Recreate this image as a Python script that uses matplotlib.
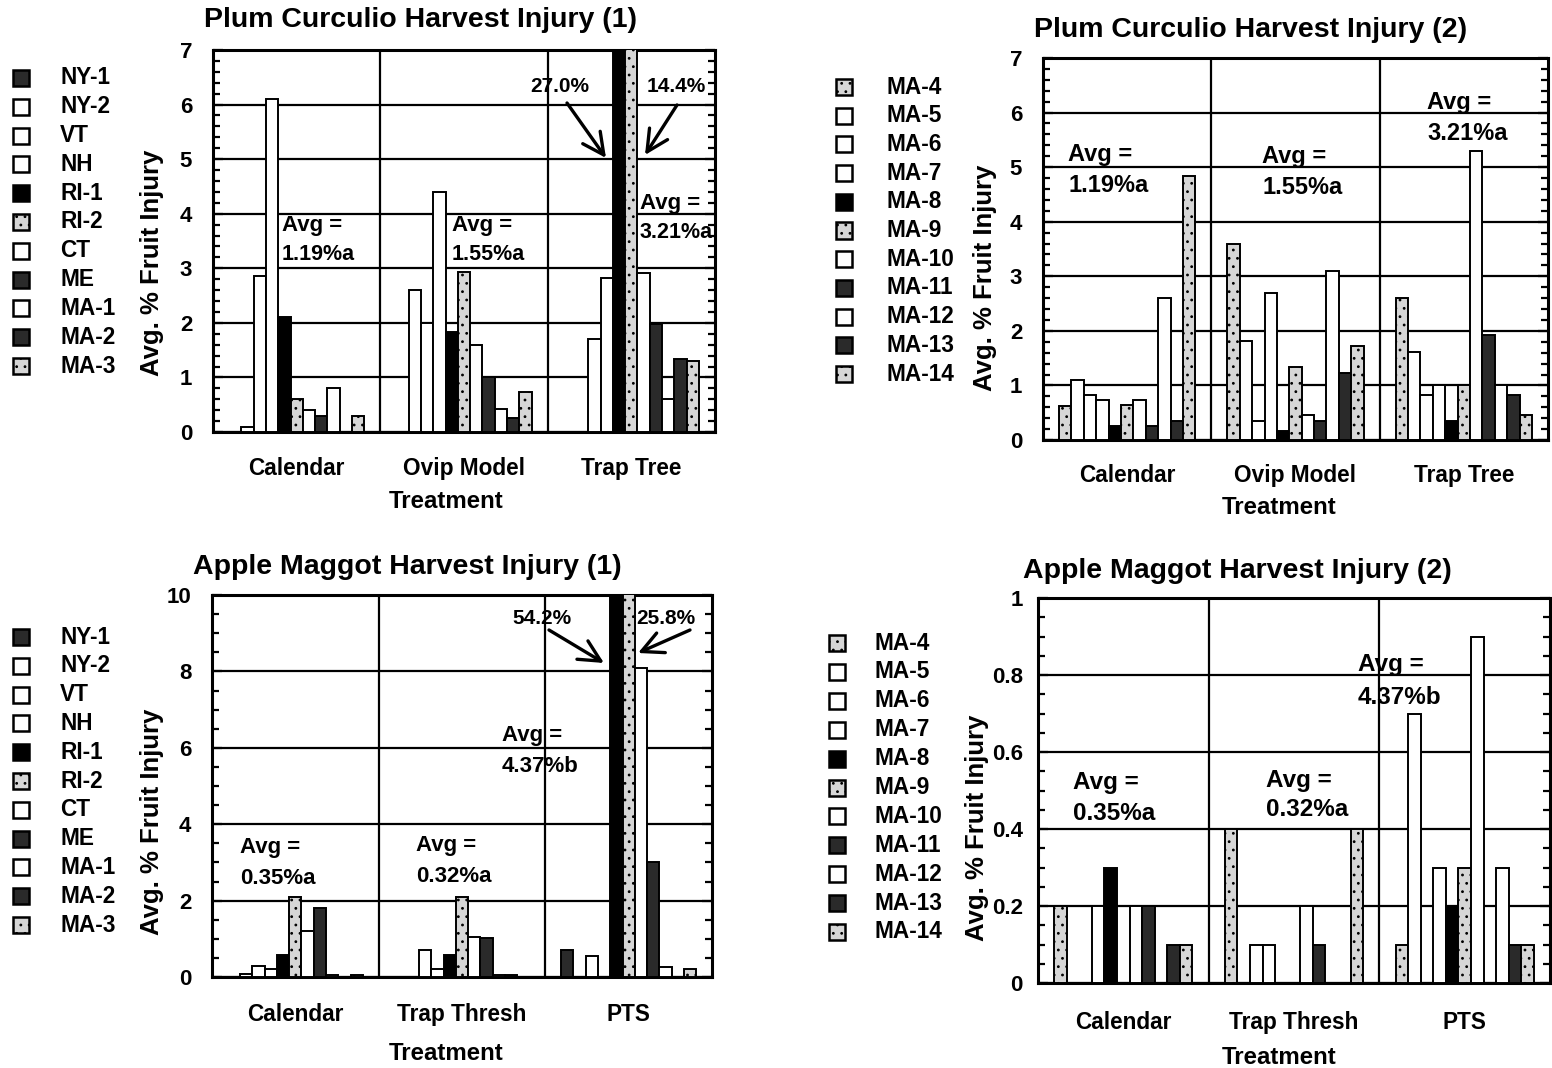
import numpy as np
import matplotlib
matplotlib.use('Agg')
import matplotlib.pyplot as plt
from matplotlib.patches import Rectangle, FancyArrowPatch
from matplotlib.ticker import MultipleLocator, FuncFormatter

W, H = 1552, 1068
plt.rcParams['font.family'] = ['Liberation Sans', 'DejaVu Sans']
plt.rcParams['hatch.linewidth'] = 0.8

# ---------------- data ----------------
pc_treatments = ['Calendar', 'Ovip Model', 'Trap Tree']
am_treatments = ['Calendar', 'Trap Thresh', 'PTS']

sites_1 = ['NY-1', 'NY-2', 'VT', 'NH', 'RI-1', 'RI-2', 'CT', 'ME', 'MA-1', 'MA-2', 'MA-3']
sites_2 = ['MA-4', 'MA-5', 'MA-6', 'MA-7', 'MA-8', 'MA-9', 'MA-10', 'MA-11', 'MA-12', 'MA-13', 'MA-14']

styles_1 = ['dpat', 'white', 'white', 'white', 'black', 'lpat', 'white', 'dpat', 'white', 'dpat', 'lpat']
styles_2 = ['lpat', 'white', 'white', 'white', 'black', 'lpat', 'white', 'dpat', 'white', 'dpat', 'lpat']

# Plum curculio (1): % fruit injury by site, one list per treatment
pc1_calendar = [0, 0.1, 2.85, 6.1, 2.1, 0.6, 0.4, 0.3, 0.8, 0, 0.3]
pc1_ovip     = [0, 2.6, 2.0, 4.4, 1.83, 2.94, 1.6, 1.0, 0.42, 0.25, 0.73]
pc1_traptree = [0, 0, 1.7, 2.82, 27.0, 14.4, 2.92, 1.97, 0.6, 1.33, 1.3]

# Plum curculio (2)
pc2_calendar = [0.62, 1.1, 0.82, 0.73, 0.25, 0.64, 0.73, 0.25, 2.6, 0.35, 4.83]
pc2_ovip     = [3.6, 1.82, 0.35, 2.7, 0.17, 1.33, 0.45, 0.35, 3.1, 1.22, 1.72]
pc2_traptree = [2.6, 1.62, 0.82, 1.0, 0.35, 1.0, 5.3, 1.92, 1.0, 0.82, 0.45]

# Apple maggot (1)
am1_calendar = [0, 0.08, 0.3, 0.2, 0.57, 2.1, 1.2, 1.8, 0.05, 0, 0.05]
am1_trap     = [0, 0, 0.7, 0.2, 0.57, 2.1, 1.05, 1.03, 0.05, 0.05, 0]
am1_pts      = [0.7, 0, 0.55, 0, 54.2, 25.8, 8.1, 3.0, 0.25, 0, 0.2]

# Apple maggot (2)
am2_calendar = [0.2, 0, 0, 0.2, 0.3, 0, 0.2, 0.2, 0, 0.1, 0.1]
am2_trap     = [0.4, 0, 0.1, 0.1, 0, 0, 0.2, 0.1, 0, 0, 0.4]
am2_pts      = [0.1, 0.7, 0, 0.3, 0.2, 0.3, 0.9, 0, 0.3, 0.1, 0.1]

STYLE = {
    'white': dict(facecolor='white', hatch=None),
    'black': dict(facecolor='black', hatch=None),
    'lpat': dict(facecolor='#d6d6d6', hatch='..'),
    'dpat': dict(facecolor='#2a2a2a', hatch=None),
}

fig = plt.figure(figsize=(W / 100, H / 100), dpi=100)
fig.patch.set_facecolor('white')


def fx(x):
    return x / W


def fy(y):
    return 1 - y / H


def add_ax(x0, y0, x1, y1):
    return fig.add_axes([fx(x0), fy(y1), (x1 - x0) / W, (y1 - y0) / H])


def draw_panel(ax, treatments, data, styles, ymax, major, minor, xpad, ypad, fmt=None):
    n = len(styles)
    w = 0.81 / n
    for i in range(n):
        vals = [d[i] for d in data]
        xs = np.arange(len(treatments)) + (i - (n - 1) / 2) * w
        st = STYLE[styles[i]]
        ax.bar(xs, vals, width=w, facecolor=st['facecolor'], hatch=st['hatch'],
               edgecolor='black', linewidth=1.4, zorder=3)
    ax.set_xlim(-0.5, 2.5)
    ax.set_ylim(0, ymax)
    ax.yaxis.set_major_locator(MultipleLocator(major))
    ax.yaxis.set_minor_locator(MultipleLocator(minor))
    if fmt is not None:
        ax.yaxis.set_major_formatter(FuncFormatter(fmt))
    ax.grid(axis='y', which='major', color='black', lw=1.6, zorder=1)
    for xv in [0.5, 1.5]:
        ax.axvline(xv, color='black', lw=1.6, zorder=1)
    ax.set_axisbelow(True)
    ax.tick_params(axis='y', which='both', direction='in', left=True, right=True,
                   labelsize=16, pad=ypad, width=1.6)
    ax.tick_params(axis='y', which='major', length=7)
    ax.tick_params(axis='y', which='minor', length=5)
    ax.set_xticks(range(len(treatments)))
    ax.set_xticklabels(treatments)
    ax.tick_params(axis='x', length=0, labelsize=16.3, pad=xpad)
    for lab in ax.get_xticklabels() + ax.get_yticklabels():
        lab.set_fontweight('bold')
    for s in ax.spines.values():
        s.set_linewidth(2.2)


def ftext(x, y, s, size, weight='bold', ha='left', va='center', rot=0):
    fig.text(fx(x), fy(y), s, fontsize=size, fontweight=weight, ha=ha, va=va, rotation=rot)


def legend(sites, styles, xbox, xlab, y0, y1, size=16.3):
    n = len(sites)
    for k, (site, sty) in enumerate(zip(sites, styles)):
        y = y0 + (y1 - y0) * k / (n - 1)
        st = STYLE[sty]
        r = Rectangle((fx(xbox), fy(y + 8)), 16 / W, 16 / H, transform=fig.transFigure,
                      facecolor=st['facecolor'], hatch=st['hatch'], edgecolor='black', lw=1.8)
        fig.add_artist(r)
        ftext(xlab, y, site, size)


def arrow(xt, yt, xh, yh):
    fig.add_artist(FancyArrowPatch(
        (fx(xt), fy(yt)), (fx(xh), fy(yh)), transform=fig.transFigure,
        arrowstyle='->,head_length=0.7,head_width=0.35', mutation_scale=22,
        lw=2.4, color='black', shrinkA=0, shrinkB=0))


gfmt = lambda v, p: '%g' % v

# ---------------- Panel 1 ----------------
ax1 = add_ax(213, 50, 715, 432)
draw_panel(ax1, pc_treatments, [pc1_calendar, pc1_ovip, pc1_traptree], styles_1,
           7, 1, 0.2, xpad=18, ypad=15)
ftext(421, 20, 'Plum Curculio Harvest Injury (1)', 20.5, ha='center')
ftext(152, 263, 'Avg. % Fruit Injury', 18.5, ha='center', rot=90)
ftext(446, 501, 'Treatment', 17.3, ha='center')
legend(sites_1, styles_1, 13, 60, 78, 366)
ftext(282, 225, 'Avg =', 16)
ftext(282, 254, '1.19%a', 15.5)
ftext(452, 225, 'Avg =', 16)
ftext(452, 254, '1.55%a', 15.5)
ftext(640, 203, 'Avg =', 16)
ftext(640, 233, '3.21%a', 15.5)
ftext(560, 87, '27.0%', 15, ha='center')
ftext(676, 87, '14.4%', 15, ha='center')
arrow(567, 103, 606, 158)
arrow(677, 105, 645, 155)

# ---------------- Panel 2 ----------------
ax2 = add_ax(1043, 58, 1548, 440)
draw_panel(ax2, pc_treatments, [pc2_calendar, pc2_ovip, pc2_traptree], styles_2,
           7, 1, 0.2, xpad=17, ypad=15)
ftext(1251, 30, 'Plum Curculio Harvest Injury (2)', 20.5, ha='center')
ftext(985, 278, 'Avg. % Fruit Injury', 18.5, ha='center', rot=90)
ftext(1279, 507, 'Treatment', 17.3, ha='center')
legend(sites_2, styles_2, 836, 887, 87, 374)
ftext(1068, 154, 'Avg =', 17)
ftext(1068, 186, '1.19%a', 17)
ftext(1262, 156, 'Avg =', 17)
ftext(1262, 188, '1.55%a', 17)
ftext(1427, 102, 'Avg =', 17)
ftext(1427, 134, '3.21%a', 17)

# ---------------- Panel 3 ----------------
ax3 = add_ax(212, 595, 712, 977)
draw_panel(ax3, am_treatments, [am1_calendar, am1_trap, am1_pts], styles_1,
           10, 2, 0.5, xpad=19, ypad=15)
ftext(407, 567, 'Apple Maggot Harvest Injury (1)', 20.5, ha='center')
ftext(152, 822, 'Avg. % Fruit Injury', 18.5, ha='center', rot=90)
ftext(446, 1054, 'Treatment', 17.3, ha='center')
legend(sites_1, styles_1, 13, 60, 637, 925)
ftext(240, 847, 'Avg =', 16)
ftext(240, 878, '0.35%a', 16)
ftext(416, 846, 'Avg =', 16)
ftext(416, 877, '0.32%a', 16)
ftext(502, 735, 'Avg =', 16)
ftext(502, 767, '4.37%b', 16)
ftext(542, 619, '54.2%', 15, ha='center')
ftext(666, 619, '25.8%', 15, ha='center')
arrow(549, 630, 604, 663)
arrow(690, 630, 638, 653)

# ---------------- Panel 4 ----------------
ax4 = add_ax(1038, 598, 1550, 983)
draw_panel(ax4, am_treatments, [am2_calendar, am2_trap, am2_pts], styles_2,
           1, 0.2, 0.05, xpad=20, ypad=11, fmt=gfmt)
ftext(1237, 571, 'Apple Maggot Harvest Injury (2)', 20.5, ha='center')
ftext(977, 828, 'Avg. % Fruit Injury', 18.5, ha='center', rot=90)
ftext(1279, 1057, 'Treatment', 17.3, ha='center')
legend(sites_2, styles_2, 829, 875, 643, 932)
ftext(1073, 782, 'Avg =', 17.5)
ftext(1073, 813, '0.35%a', 17.5)
ftext(1266, 780, 'Avg =', 17.5)
ftext(1266, 810, '0.32%a', 17.5)
ftext(1358, 665, 'Avg =', 17.5)
ftext(1358, 697, '4.37%b', 17.5)

fig.savefig('out.png', dpi=100)
